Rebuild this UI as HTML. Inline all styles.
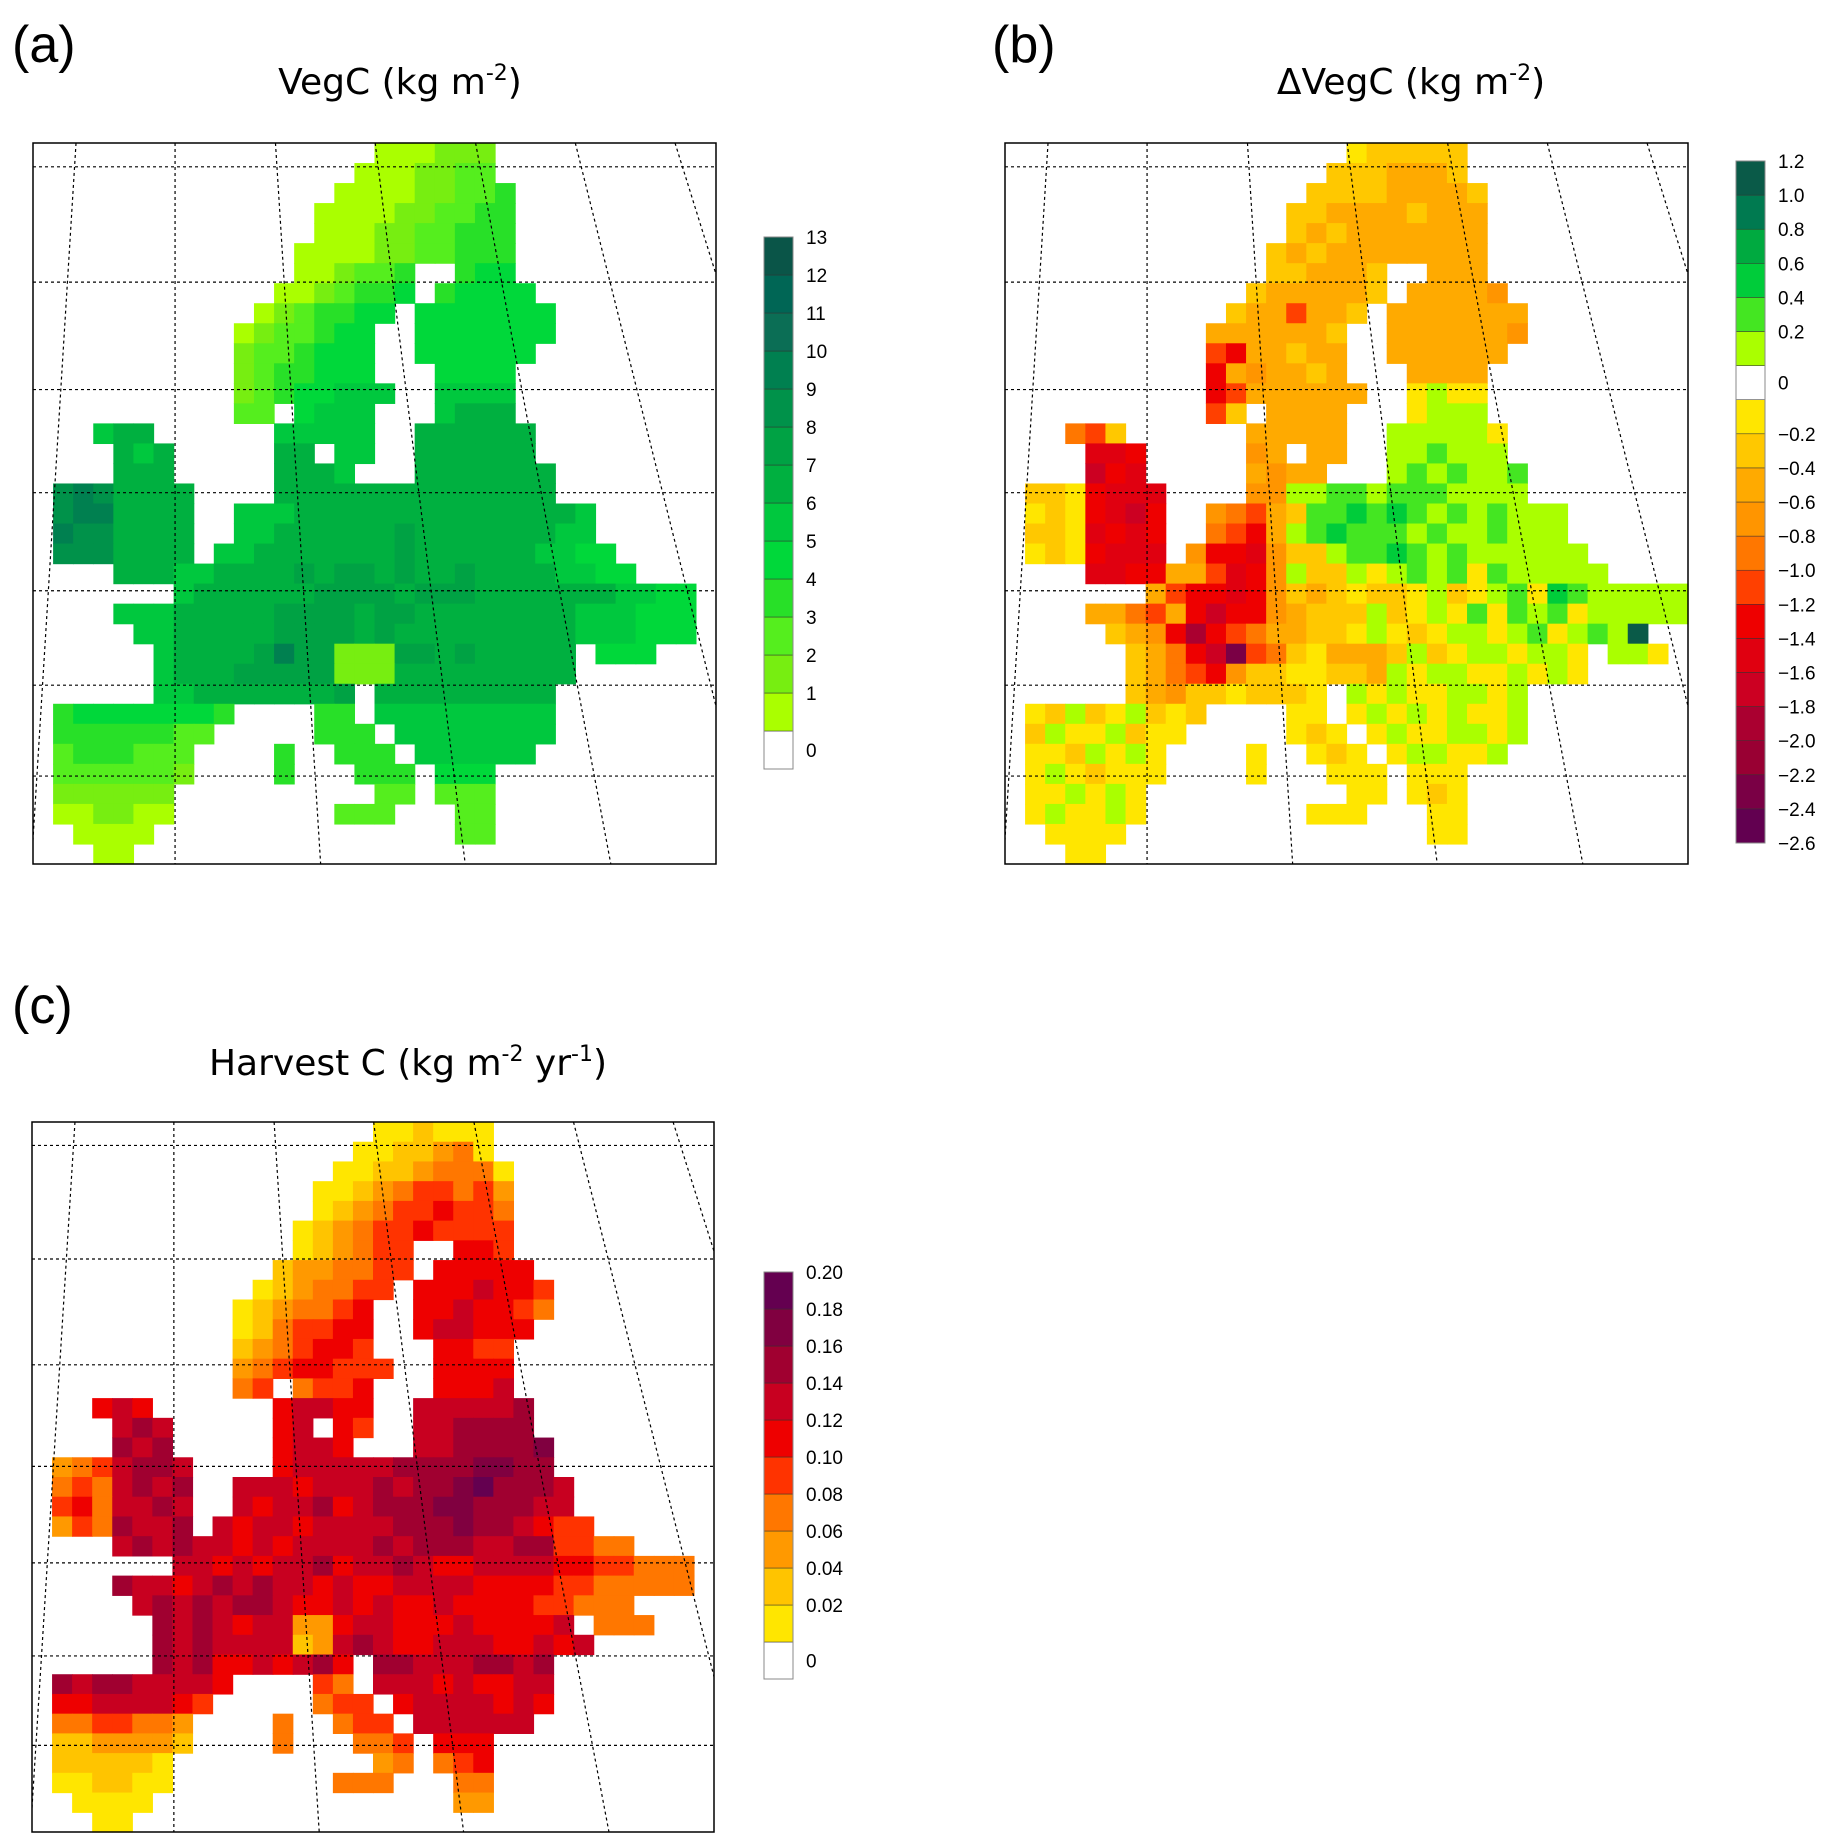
<!DOCTYPE html>
<html><head><meta charset="utf-8"><style>
html,body{margin:0;padding:0;background:#fff}
svg{display:block}
text{font-family:"Liberation Sans",sans-serif;fill:#000}
.ttl{font-family:"DejaVu Sans","Liberation Sans",sans-serif;font-size:36px}
.cb{font-size:19px}
</style></head><body>
<svg id="fig" width="1835" height="1843" viewBox="0 0 1835 1843" xmlns="http://www.w3.org/2000/svg">
<text x="12" y="62" style="font-size:52px">(a)</text>
<text x="400" y="94" text-anchor="middle" class="ttl">VegC (kg m<tspan dy="-14" font-size="22">-2</tspan><tspan dy="14">)</tspan></text>
<text x="992" y="62" style="font-size:52px">(b)</text>
<text x="1411" y="94" text-anchor="middle" class="ttl">ΔVegC (kg m<tspan dy="-14" font-size="22">-2</tspan><tspan dy="14">)</tspan></text>
<text x="12" y="1023" style="font-size:52px">(c)</text>
<text x="408" y="1075" text-anchor="middle" class="ttl">Harvest C (kg m<tspan dy="-14" font-size="22">-2</tspan><tspan dy="14"> yr</tspan><tspan dy="-14" font-size="22">-1</tspan><tspan dy="14">)</tspan></text>
<g id="layer"></g>
</svg>
<script>
// ---- data: per-row "offset:cells" strings (bin codes), '.' = no data ----
const vegcRows = [
"17:111222","16:1112233","15:111122334","14:1111223344","14:1112233444","13:11112233444",
"13:112334..455","12:1123445.45555","11:1234455.5555555","10:1233455..5555555","10:2334555..555555",
"10:2344555...5555","10:23455666..6666","10:33.5666...6777","3:677......66666..777777",
"4:767.....77.66..777777","4:777.....7776...7777777","1:9a97777....77777777777777",
"1:9aa7777..666777777777777776","1:a997777..667777778777777766","1:9997777.66777777787777776655",
"4:77766777787887877877776655","7:67777778888788877777776655","4:66677777888878877777777666555",
"5:6677777888878777777777666555","6:677778a88222887877777.555","6:677788888222777777777",
"6:6677777778.777777777","1:455555554....44.666666666","1:44444433.....444.66666666",
"1:3444333....4..444.666666","1:3333332....4...444.555","1:222222..........33.333",
"1:112211........333...33","2:1111...............33","3:11"];
const dvegcRows = [
"17:122222","16:2223332","15:222233332","14:2233332333","14:2323333333","13:23233333333",
"13:223332..333","12:2333332.33334","11:2336332.3333333","10:3333332..3333334","10:6733233..333333",
"10:7343323...3333","10:76333333..1A11","10:62.3333...1AAA","3:562......33333..AAAAA1",
"4:887.....43.33..AABAAA","4:978.....3433...ABABAAB","1:2217888....44AABBABBBAAAA",
"1:1217897..45632BBCBCBABABAAA","1:2218787..5673ABCBBBABAABAAA","1:1217888.4778422ABBCBABAAAAAA",
"4:8877336874A22A1ABAB1BAAAAA","7:36778742321221A21AB1CBAAAAAA","4:33563797743222A21A1B1BAB1AAAAA",
"5:2347j76533221A121AA1AB1ABAF","6:23579l65213332A21AA1AA1.AA1","6:2356742211223A1AA11A1A1",
"6:2342212221.A1A11AA1A","1:12A21A212....11.1A1A1A11A","1:2A11A211.....121.1A11AA1A",
"1:112A1A1....1..121.1AA11A","1:1A12111....1...111.111","1:11A1A1..........11.121",
"1:1A11A1........111...11","2:1111...............11","3:11"];
const harvestRows = [
"17:112111","16:1122341","15:112234441","14:1123455453","14:1234556554","13:12345565555",
"13:123455..665","12:2334455.66666","11:1234455.6667665","10:1234456..6676654","10:1245566..677666",
"10:2345665...6655","10:34566555..6666","10:45.4556...6667","3:676......67766..777778",
"4:787.....67.65..778888","4:878.....6776...7788889","1:3457887....67777788889988",
"1:4547878..777677787889a8887","1:5647787..76778678889988877","1:3548778.7677677778889887655",
"4:78787767677778788877885544","7:77676778677876677776655444","4:87767878776766777766665544444",
"5:7878788766767667666655444","6:878767733677666766667.444","6:8787777237876677766767",
"6:8786676786.887778878","1:878877776....54.777676677","1:66777765.....455.67777676",
"1:4455443....4..455.777777","1:2233332....4...445.666","1:222221..........34.456",
"1:112211........444...44","2:1111...............33","3:11"];
const vegcColors = ["#ffffff","#aaff00","#77ee11","#55ee1e","#28e028","#00d83a","#00c83e","#00b040","#00a244","#00924a","#008050","#0b6e55","#006655","#0a5548"];
const vegcCodes = [".","1","2","3","4","5","6","7","8","9","a","b","c","d"];
const vegcTicks = ["0","1","2","3","4","5","6","7","8","9","10","11","12","13"];
const dvegcColors = ["#620050","#7a0045","#990033","#aa0030","#cc0022","#e00010","#ee0000","#ff4000","#ff7700","#ff9500","#ffaa00","#ffc800","#ffe600","#ffffff","#aaff00","#44e622","#00cc3a","#00aa40","#007a50","#0a5a48"];
const dvegcCodes = ["m","l","k","j","9","8","7","6","5","4","3","2","1",".","A","B","C","D","E","F"];
const dvegcTicks = ["−2.6","−2.4","−2.2","−2.0","−1.8","−1.6","−1.4","−1.2","−1.0","−0.8","−0.6","−0.4","−0.2","0","0.2","0.4","0.6","0.8","1.0","1.2"];
const harvestColors = ["#ffffff","#ffe600","#ffc400","#ff9900","#ff7700","#ff3300","#ee0000","#c80020","#a00030","#800040","#640050"];
const harvestCodes = [".","1","2","3","4","5","6","7","8","9","a"];
const harvestTicks = ["0","0.02","0.04","0.06","0.08","0.10","0.12","0.14","0.16","0.18","0.20"];
const latFrac = [0.033,0.193,0.342,0.485,0.621,0.752,0.878];
const lonTop = [0.063,0.208,0.355,0.501,0.648,0.794,0.940];

const NS="http://www.w3.org/2000/svg";
const layer=document.getElementById('layer');
function mk(tag,attrs,parent){const e=document.createElementNS(NS,tag);for(const k in attrs)e.setAttribute(k,attrs[k]);(parent||layer).appendChild(e);return e;}

function drawMap(name,x0,y0,w,h,rows,codes,colors){
  const g=mk('g',{});
  
  
  const nc=34,nr=36,cw=w/nc,ch=h/nr;
  const colX=c=>x0+c*cw, rowY=r=>y0+r*ch;
  rows.forEach((row,r)=>{
    const p=row.indexOf(':');const off=parseInt(row.slice(0,p));const s=row.slice(p+1);
    for(let i=0;i<s.length;i++){if(s[i]==='.')continue;const k=codes.indexOf(s[i]);if(k<0)continue;
      const c=off+i;if(c>=nc)continue;
      const rc=mk('rect',{x:colX(c).toFixed(2),y:rowY(r).toFixed(2),width:(cw+0.6).toFixed(2),height:(ch+0.6).toFixed(2),fill:colors[k]},g);
      
      
    }
  });
  latFrac.forEach(f=>{const l=mk('line',{x1:x0,x2:x0+w,y1:y0+f*h,y2:y0+f*h,stroke:'#000','stroke-width':1.2,'stroke-dasharray':'3,3'},g);
    
    });
  const cl=mk('clipPath',{id:'clip-'+name},g);mk('rect',{x:x0,y:y0,width:w,height:h},cl);
  lonTop.forEach(f=>{const b=0.208+(f-0.208)*1.45;const l=mk('line',{x1:x0+f*w,y1:y0,x2:x0+b*w,y2:y0+h,stroke:'#000','stroke-width':1.2,'stroke-dasharray':'3,3','clip-path':'url(#clip-'+name+')'},g);
    
    });
  const fr=mk('rect',{x:x0,y:y0,width:w,height:h,fill:'none',stroke:'#000','stroke-width':1.5},g);
  
  
}
function drawBar(name,x0,yTop,yBot,w,colors,ticks,labelY){
  const g=mk('g',{});
  
  
  const n=colors.length,sh=(yBot-yTop)/n;
  colors.forEach((c,i)=>{const r=mk('rect',{x:x0,y:yBot-(i+1)*sh,width:w,height:sh,fill:c,stroke:'#333','stroke-width':0.5},g);
    
    });
  mk('rect',{x:x0,y:yTop,width:w,height:yBot-yTop,fill:'none',stroke:'#888','stroke-width':1},g);
  ticks.forEach((t,i)=>{const y=labelY(i,yBot,sh);
    const tx=mk('text',{x:x0+w+13,y:y+7,class:'cb'},g);tx.textContent=t;
    
    });
}
drawMap('vegc',33,143,683,721,vegcRows,vegcCodes,vegcColors);
drawMap('dvegc',1005,143,683,721,dvegcRows,dvegcCodes,dvegcColors);
drawMap('harvest',32,1122,682,710,harvestRows,harvestCodes,harvestColors);
drawBar('vegc',764,237,769,29,vegcColors,vegcTicks,(i,yb,sh)=>i===0?yb-0.5*sh:yb-(i+1)*sh);
drawBar('dvegc',1736,161,843,29,dvegcColors,dvegcTicks,(i,yb,sh)=>i<13?yb-i*sh:(i===13?yb-13.5*sh:yb-(i+1)*sh));
drawBar('harvest',764,1272,1679,29,harvestColors,harvestTicks,(i,yb,sh)=>i===0?yb-0.5*sh:yb-(i+1)*sh);
</script>
</body></html>
